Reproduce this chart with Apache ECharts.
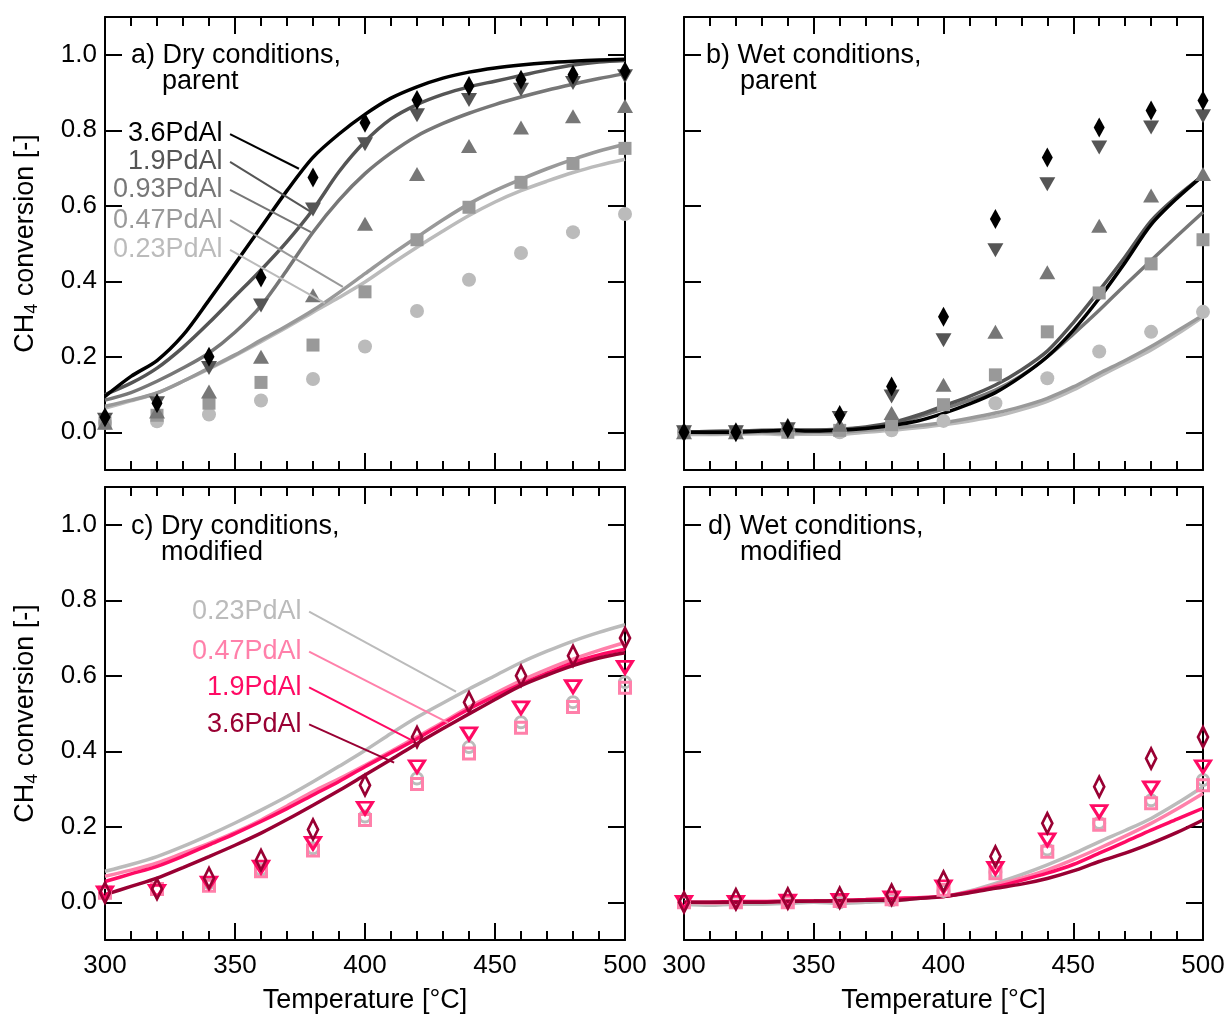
<!DOCTYPE html>
<html>
<head>
<meta charset="utf-8">
<title>CH4 conversion</title>
<script src="https://cdn.jsdelivr.net/npm/echarts@6/dist/echarts.min.js"></script>
</head>
<body style="margin:0px;background:#fff;">
<div id="main" style="width:1228px;height:1018px;"></div>
<script type="text/javascript">
// temperature of the ramp traces and of the steady-state points
var tRamp = [300,310,320,330,340,350,360,370,380,390,400,410,420,430,440,450,460,470,480,490,500];
var tSteady = [300,320,340,360,380,400,420,440,460,480,500];
var yTicks = [0, 0.2, 0.4, 0.6, 0.8, 1.0];

// a) dry, parent - ramp traces
var a36 = [0.095,0.148,0.19,0.257,0.35,0.446,0.543,0.64,0.728,0.79,0.842,0.885,0.915,0.938,0.954,0.965,0.973,0.979,0.983,0.986,0.988];
var a19 = [0.10,0.13,0.17,0.225,0.29,0.36,0.43,0.505,0.59,0.69,0.77,0.83,0.868,0.895,0.915,0.93,0.945,0.96,0.973,0.981,0.985];
var a093 = [0.085,0.105,0.135,0.17,0.21,0.265,0.335,0.43,0.53,0.615,0.685,0.74,0.785,0.818,0.845,0.868,0.888,0.906,0.922,0.937,0.95];
var a047 = [0.069,0.085,0.104,0.135,0.17,0.205,0.244,0.282,0.323,0.37,0.42,0.47,0.517,0.563,0.605,0.64,0.67,0.698,0.723,0.745,0.763];
var a023 = [0.064,0.083,0.104,0.135,0.168,0.203,0.24,0.278,0.318,0.357,0.398,0.445,0.49,0.533,0.574,0.61,0.64,0.665,0.688,0.707,0.723];
// a) steady-state points
var a36p = [0.04,0.077,0.20,0.41,0.675,0.82,0.88,0.917,0.934,0.947,0.956];
var a19p = [0.033,0.077,0.17,0.336,0.59,0.763,0.84,0.88,0.907,0.925,0.943];
var a093p = [0.025,0.055,0.108,0.20,0.363,0.552,0.684,0.758,0.807,0.837,0.864];
var a047p = [0.025,0.045,0.077,0.132,0.231,0.372,0.51,0.596,0.662,0.712,0.752];
var a023p = [0.025,0.029,0.047,0.084,0.141,0.227,0.321,0.404,0.475,0.53,0.578];

// b) wet, parent
var b36 = [0.0,0.0,0.0,0.003,0.005,0.003,0.005,0.01,0.018,0.03,0.05,0.075,0.105,0.148,0.2,0.27,0.355,0.45,0.55,0.62,0.68];
var b19 = [0.0,0.002,0.003,0.005,0.006,0.006,0.008,0.014,0.025,0.045,0.07,0.095,0.125,0.165,0.215,0.29,0.375,0.465,0.56,0.625,0.68];
var b093 = [0.0,0.002,0.003,0.004,0.005,0.005,0.007,0.012,0.02,0.04,0.062,0.085,0.112,0.15,0.2,0.26,0.323,0.39,0.455,0.52,0.583];
var b047 = [0.0,-0.003,-0.002,0.0,-0.002,0.0,0.0,0.005,0.01,0.017,0.025,0.037,0.051,0.068,0.09,0.12,0.156,0.19,0.227,0.268,0.31];
var b023 = [-0.005,-0.006,-0.005,-0.004,-0.006,-0.005,-0.005,0.0,0.005,0.012,0.02,0.03,0.042,0.06,0.082,0.112,0.148,0.183,0.218,0.26,0.306];
var b36p = [0.0,0.0,0.01,0.046,0.121,0.306,0.565,0.728,0.807,0.852,0.879];
var b19p = [0.0,0.0,0.008,0.038,0.095,0.244,0.482,0.657,0.754,0.807,0.837];
var b093p = [0.0,0.0,0.02,0.02,0.051,0.126,0.266,0.424,0.547,0.627,0.684];
var b047p = [0.0,0.0,0.0,0.005,0.02,0.073,0.152,0.266,0.369,0.446,0.51];
var b023p = [0.0,0.0,0.0,0.0,0.005,0.03,0.077,0.143,0.214,0.266,0.319];

// c) dry, modified
var c023 = [0.082,0.10,0.121,0.148,0.178,0.21,0.244,0.28,0.319,0.36,0.402,0.447,0.49,0.528,0.565,0.60,0.635,0.665,0.692,0.715,0.735];
var c047 = [0.069,0.085,0.104,0.13,0.156,0.185,0.218,0.255,0.293,0.327,0.363,0.40,0.438,0.477,0.517,0.553,0.587,0.617,0.644,0.667,0.688];
var c19 = [0.055,0.075,0.095,0.122,0.152,0.182,0.214,0.248,0.284,0.32,0.359,0.396,0.433,0.473,0.512,0.546,0.578,0.607,0.635,0.655,0.67];
var c36 = [0.02,0.042,0.064,0.092,0.121,0.151,0.183,0.219,0.257,0.296,0.337,0.378,0.42,0.46,0.499,0.537,0.574,0.602,0.627,0.647,0.661];
var c36p = [0.025,0.035,0.064,0.112,0.193,0.31,0.438,0.53,0.60,0.653,0.70];
var c19p = [0.025,0.029,0.051,0.093,0.156,0.249,0.359,0.446,0.515,0.571,0.622];
var c047p = [0.025,0.035,0.044,0.082,0.137,0.218,0.313,0.394,0.462,0.517,0.568];
var c023p = [0.025,0.033,0.051,0.086,0.143,0.227,0.328,0.411,0.477,0.53,0.583];

// d) wet, modified
var d023 = [-0.005,-0.008,-0.005,-0.005,-0.003,0.0,-0.003,0.0,0.003,0.01,0.015,0.03,0.05,0.073,0.099,0.128,0.16,0.19,0.222,0.262,0.306];
var d047 = [0.0,-0.002,0.0,0.0,0.002,0.003,0.003,0.005,0.008,0.012,0.015,0.028,0.046,0.064,0.086,0.113,0.143,0.175,0.209,0.247,0.288];
var d19 = [0.0,0.0,0.002,0.002,0.003,0.003,0.005,0.007,0.01,0.012,0.015,0.027,0.041,0.058,0.077,0.1,0.13,0.16,0.191,0.22,0.249];
var d36 = [0.0,0.0,0.0,0.0,0.002,0.003,0.004,0.005,0.005,0.01,0.015,0.025,0.037,0.048,0.063,0.083,0.108,0.13,0.156,0.185,0.218];
var d36p = [0.0,0.008,0.01,0.012,0.02,0.055,0.121,0.209,0.306,0.381,0.438];
var d19p = [0.0,0.0,0.003,0.005,0.012,0.041,0.09,0.165,0.24,0.303,0.359];
var d047p = [0.0,0.0,0.0,0.003,0.008,0.033,0.077,0.134,0.205,0.262,0.31];
var d023p = [0.0,0.0,0.0,0.0,0.005,0.03,0.08,0.14,0.21,0.27,0.324];

// sample labels with leader lines: [name, T, value at text, T, value at curve]
var labelsA = [
    ['3.6PdAl', 348.1, 0.79, 374.6, 0.698],
    ['1.9PdAl', 348.1, 0.716, 379.2, 0.584],
    ['0.93PdAl', 348.1, 0.642, 379.2, 0.53],
    ['0.47PdAl', 348.1, 0.562, 391.5, 0.385],
    ['0.23PdAl', 348.1, 0.483, 384.6, 0.342]
];
var labelsC = [
    ['0.23PdAl', 378.5, 0.77, 435, 0.558],
    ['0.47PdAl', 378.5, 0.664, 431.9, 0.476],
    ['1.9PdAl', 378.5, 0.569, 418.8, 0.426],
    ['3.6PdAl', 378.5, 0.471, 411.2, 0.37]
];
var panelText = [
    ['a) Dry conditions,', 'parent'],
    ['b) Wet conditions,', 'parent'],
    ['c) Dry conditions,', 'modified'],
    ['d) Wet conditions,', 'modified']
];

var grey = {'3.6': '#000000', '1.9': '#555555', '0.93': '#777777', '0.47': '#999999', '0.23': '#bbbbbb'};
var pink = {'3.6': '#990033', '1.9': '#ff0a64', '0.47': '#ff80aa', '0.23': '#bbbbbb'};
var FONT = 'Liberation Sans';

var grids = [
    {left: 105, top: 17, width: 520, height: 453},
    {left: 684, top: 17, width: 519, height: 453},
    {left: 105, top: 487, width: 520, height: 453},
    {left: 684, top: 487, width: 519, height: 453}
];

var blackLine = {color: '#000', width: 2};
var xAxes = [], yAxes = [];
grids.forEach(function (g, i) {
    var bottomRow = i >= 2, leftCol = (i % 2) === 0;
    ['bottom', 'top'].forEach(function (pos) {
        var main = pos === 'bottom';
        xAxes.push({
            type: 'value', gridIndex: i, position: pos, min: 300, max: 500, interval: 50,
            axisLine: {show: true, onZero: false, lineStyle: blackLine},
            axisTick: {show: true, inside: true, length: 17, lineStyle: blackLine},
            minorTick: {show: true, splitNumber: 5, length: 9, lineStyle: blackLine},
            splitLine: {show: false},
            axisLabel: {show: main && bottomRow, fontSize: 26, color: '#000', margin: 13, fontFamily: FONT},
            name: (main && bottomRow) ? 'Temperature [°C]' : '',
            nameLocation: 'middle', nameGap: 47,
            nameTextStyle: {fontSize: 27, color: '#000', fontFamily: FONT}
        });
    });
    ['left', 'right'].forEach(function (pos) {
        var main = pos === 'left';
        yAxes.push({
            type: 'value', gridIndex: i, position: pos, min: -0.1, max: 1.1,
            axisLine: {show: true, onZero: false, lineStyle: blackLine},
            axisTick: {show: true, inside: true, length: 17, lineStyle: blackLine, customValues: yTicks},
            splitLine: {show: false},
            axisLabel: {show: main && leftCol, fontSize: 26, color: '#000', margin: 8, fontFamily: FONT,
                customValues: yTicks, formatter: function (v) { return v.toFixed(1); }},
            name: (main && leftCol) ? '{n|CH}{s|4}{n| conversion [-]}' : '',
            nameLocation: 'middle', nameGap: 64,
            nameTextStyle: {
                color: '#000', fontFamily: FONT,
                rich: {
                    n: {fontSize: 27, color: '#000', fontFamily: FONT},
                    s: {fontSize: 18, color: '#000', fontFamily: FONT, verticalAlign: 'bottom', padding: [12, 0, 0, 0]}
                }
            }
        });
    });
});

var series = [];
function pairs(xs, ys) { return xs.map(function (x, k) { return [x, ys[k]]; }); }

function trace(gi, vals, color) {
    series.push({
        type: 'line', xAxisIndex: 2 * gi, yAxisIndex: 2 * gi, data: pairs(tRamp, vals),
        symbol: 'none', smooth: 0.3, lineStyle: {color: color, width: 3.5}, silent: true, z: 2
    });
}
function points(gi, vals, color, symbol, size, rotate, hollow) {
    series.push({
        type: 'scatter', xAxisIndex: 2 * gi, yAxisIndex: 2 * gi, data: pairs(tSteady, vals),
        symbol: symbol, symbolSize: size, symbolRotate: rotate || 0, silent: true, z: 3,
        itemStyle: hollow ? {color: 'rgba(255,255,255,0)', borderColor: color, borderWidth: 3, opacity: 1}
                          : {color: color, opacity: 1}
    });
}
function leaders(gi, list, colors) {
    list.forEach(function (l) {
        var key = l[0].replace('PdAl', '');
        var col = colors[key];
        series.push({
            type: 'line', xAxisIndex: 2 * gi, yAxisIndex: 2 * gi, data: [[l[1], l[2]], [l[3], l[4]]],
            symbol: 'none', lineStyle: {color: col, width: 2}, silent: true, z: 4
        });
        series.push({
            type: 'scatter', xAxisIndex: 2 * gi, yAxisIndex: 2 * gi, symbolSize: 1, silent: true, z: 4,
            itemStyle: {color: 'rgba(0,0,0,0)', opacity: 1},
            data: [{value: [l[1], l[2]], label: {show: true, position: 'left', distance: 7, formatter: l[0],
                color: col, opacity: 1, fontSize: 27, fontFamily: FONT}}]
        });
    });
}

// a
trace(0, a023, grey['0.23']); trace(0, a047, grey['0.47']); trace(0, a093, grey['0.93']);
trace(0, a19, grey['1.9']); trace(0, a36, grey['3.6']);
points(0, a023p, grey['0.23'], 'circle', 14);
points(0, a047p, grey['0.47'], 'rect', 13);
points(0, a093p, grey['0.93'], 'triangle', [16, 14]);
points(0, a19p, grey['1.9'], 'triangle', [16, 14], 180);
points(0, a36p, grey['3.6'], 'diamond', [11, 20]);
leaders(0, labelsA, grey);
// b
trace(1, b023, grey['0.23']); trace(1, b047, grey['0.47']); trace(1, b093, grey['0.93']);
trace(1, b19, grey['1.9']); trace(1, b36, grey['3.6']);
points(1, b023p, grey['0.23'], 'circle', 14);
points(1, b047p, grey['0.47'], 'rect', 13);
points(1, b093p, grey['0.93'], 'triangle', [16, 14]);
points(1, b19p, grey['1.9'], 'triangle', [16, 14], 180);
points(1, b36p, grey['3.6'], 'diamond', [11, 20]);
// c
trace(2, c023, pink['0.23']); trace(2, c047, pink['0.47']); trace(2, c19, pink['1.9']); trace(2, c36, pink['3.6']);
points(2, c023p, pink['0.23'], 'circle', 11, 0, true);
points(2, c047p, pink['0.47'], 'rect', 11, 0, true);
points(2, c19p, pink['1.9'], 'triangle', [15, 12], 180, true);
points(2, c36p, pink['3.6'], 'diamond', [10, 20], 0, true);
leaders(2, labelsC, pink);
// d
trace(3, d023, pink['0.23']); trace(3, d047, pink['0.47']); trace(3, d19, pink['1.9']); trace(3, d36, pink['3.6']);
points(3, d023p, pink['0.23'], 'circle', 11, 0, true);
points(3, d047p, pink['0.47'], 'rect', 11, 0, true);
points(3, d19p, pink['1.9'], 'triangle', [15, 12], 180, true);
points(3, d36p, pink['3.6'], 'diamond', [10, 20], 0, true);

// panel captions
var graphics = [];
var capPos = [[131, 56, 162, 82], [706, 56, 740, 82], [131, 527, 161, 553], [708, 527, 740, 553]];
panelText.forEach(function (t, i) {
    var p = capPos[i];
    graphics.push({type: 'text', x: p[0], y: p[1], z: 10,
        style: {text: t[0], fontSize: 27, fontFamily: FONT, fill: '#000', verticalAlign: 'middle', backgroundColor: '#fff'}});
    graphics.push({type: 'text', x: p[2], y: p[3], z: 10,
        style: {text: t[1], fontSize: 27, fontFamily: FONT, fill: '#000', verticalAlign: 'middle'}});
});

var myChart = echarts.init(document.getElementById('main'), null, {renderer: 'canvas'});
myChart.setOption({
    animation: false,
    backgroundColor: '#fff',
    textStyle: {fontFamily: FONT},
    grid: grids,
    xAxis: xAxes,
    yAxis: yAxes,
    series: series,
    graphic: graphics
});
</script>
</body>
</html>
